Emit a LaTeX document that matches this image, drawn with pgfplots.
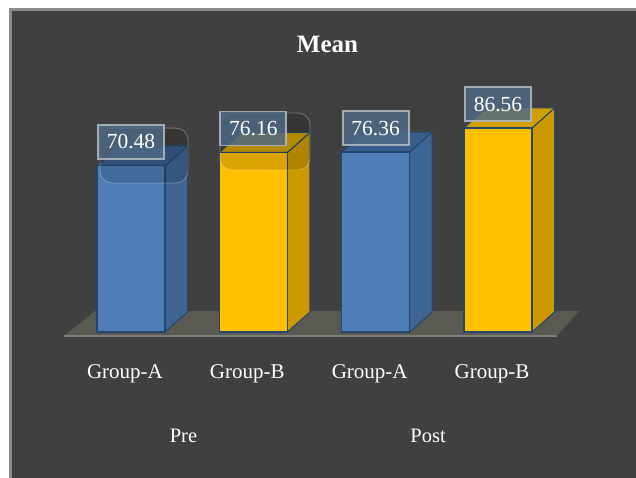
\documentclass[border=0pt]{standalone}
\usepackage{pgfplots}
\pgfplotsset{compat=1.18}
\usepackage{fontspec}
\setmainfont{Liberation Serif}
\definecolor{bg}{HTML}{404040}
\definecolor{bordergray}{HTML}{8A8A8A}
\definecolor{bluefront}{HTML}{4F7DB5}
\definecolor{blueside}{HTML}{3E6594}
\definecolor{bluetop}{HTML}{395D8A}
\definecolor{navy}{HTML}{24466E}
\definecolor{yelfront}{HTML}{FFC000}
\definecolor{yelside}{HTML}{CC9A00}
\definecolor{yeltop}{HTML}{D0A000}
\definecolor{floorc}{HTML}{5A5952}
\definecolor{flooredge}{HTML}{7E7D76}
\definecolor{labelfill}{HTML}{4F6A86}
\definecolor{labelborder}{HTML}{B4BCC4}
\begin{document}
\begin{tikzpicture}[x=1pt,y=1pt]
\fill[white] (0,0) rectangle (636,-478);
\fill[bordergray] (9,-8) rectangle (636,-478);
\fill[bg] (12,-11) rectangle (636,-478);
\node[font=\bfseries\fontsize{25}{30}\selectfont, text=white, anchor=base] at (327.5,-53) {Mean};
\begin{axis}[
  at={(69.8pt,-332pt)}, anchor=south west,
  scale only axis, width=489.4pt, height=235.7pt,
  xmin=-0.5, xmax=3.5, ymin=0, ymax=100,
  clip=false,
  axis line style={draw=none}, tick style={draw=none},
  ytick=\empty,
  xtick={0,1,2,3},
  xticklabels={Group-A,Group-B,Group-A,Group-B},
  xticklabel style={font=\fontsize{21}{25}\selectfont, text=white, anchor=base, yshift=-46pt, xshift=-6pt},
  /pgf/number format/.cd, fixed, fixed zerofill, precision=2, assume math mode=true,
  /pgfplots/.cd,
]
% floor
\addplot[fill=floorc, draw=none] coordinates {(-0.548,-1.7) (3.480,-1.7) (3.662,8.91) (-0.294,8.91)} -- cycle;
\addplot[draw=flooredge, line width=1.2pt] coordinates {(-0.548,-1.7) (3.480,-1.7)};
% side faces
\addplot[fill=blueside, draw=navy, line width=1pt] coordinates {(0.278,0) (0.462,8.49) (0.462,78.97) (0.278,70.48)} -- cycle;
\addplot[fill=yelside, draw=navy, line width=1pt] coordinates {(1.278,0) (1.462,8.49) (1.462,84.65) (1.278,76.16)} -- cycle;
\addplot[fill=blueside, draw=navy, line width=1pt] coordinates {(2.278,0) (2.462,8.49) (2.462,84.85) (2.278,76.36)} -- cycle;
\addplot[fill=yelside, draw=navy, line width=1pt] coordinates {(3.278,0) (3.462,8.49) (3.462,95.05) (3.278,86.56)} -- cycle;
% top faces
\addplot[fill=bluetop, draw=navy, line width=1pt] coordinates {(-0.278,70.48) (0.278,70.48) (0.462,78.97) (-0.094,78.97)} -- cycle;
\addplot[fill=yeltop, draw=navy, line width=1pt] coordinates {(0.722,76.16) (1.278,76.16) (1.462,84.65) (0.906,84.65)} -- cycle;
\addplot[fill=bluetop, draw=navy, line width=1pt] coordinates {(1.722,76.36) (2.278,76.36) (2.462,84.85) (1.906,84.85)} -- cycle;
\addplot[fill=yeltop, draw=navy, line width=1pt] coordinates {(2.722,86.56) (3.278,86.56) (3.462,95.05) (2.906,95.05)} -- cycle;
% front faces
\addplot[ybar, bar width=0.556, bar shift=0pt, fill=bluefront, draw=navy, line width=1.2pt] coordinates {(0,70.48) (2,76.36)};
\addplot[ybar, bar width=0.556, bar shift=0pt, fill=yelfront, draw=navy, line width=1.2pt] coordinates {(1,76.16) (3,86.56)};
% glass highlight shapes (Pre)
\addplot[fill=black, fill opacity=0.14, draw=white, draw opacity=0.3, line width=0.8pt, rounded corners=12pt] coordinates {(-0.253,86.5) (0.466,86.5) (0.466,63.2) (-0.253,63.2)} -- cycle;
\addplot[fill=black, fill opacity=0.14, draw=white, draw opacity=0.3, line width=0.8pt, rounded corners=12pt] coordinates {(0.728,92.9) (1.463,92.9) (1.463,68.7) (0.728,68.7)} -- cycle;
% value labels
\pgfplotsset{every node near coord/.append style={font=\fontsize{21.5}{25}\selectfont, text=white, fill=labelfill, fill opacity=0.82, text opacity=1, draw=labelborder, draw opacity=0.85, line width=1.8pt, minimum width=66pt, minimum height=34pt, inner sep=0pt, anchor=south, yshift=6pt}}
\addplot[draw=none, mark=none, nodes near coords] coordinates {(0,70.48) (2,76.36)};
\addplot[draw=none, mark=none, nodes near coords] coordinates {(1,76.16) (3,86.56)};
% group labels
\node[font=\fontsize{20.5}{24}\selectfont, text=white, anchor=base, yshift=-110pt] at (axis cs:0.429,0) {Pre};
\node[font=\fontsize{20.5}{24}\selectfont, text=white, anchor=base, yshift=-110pt] at (axis cs:2.428,0) {Post};
\end{axis}
\pgfresetboundingbox
\path (0,0) rectangle (636,-478);
\end{tikzpicture}
\end{document}
